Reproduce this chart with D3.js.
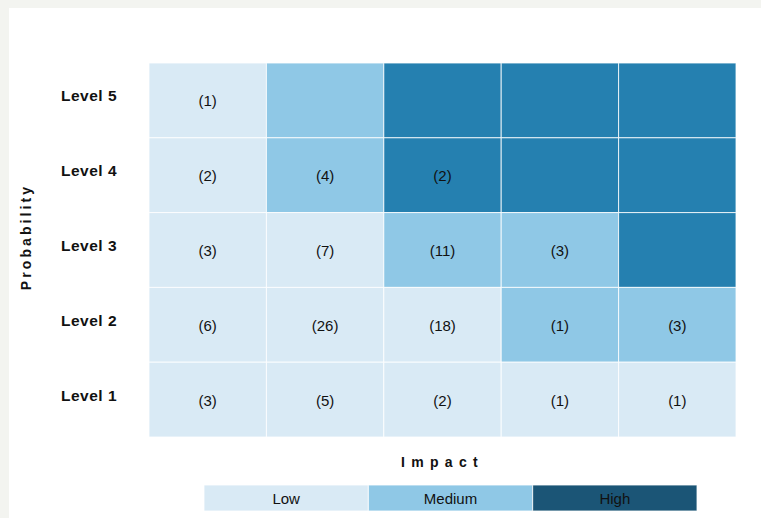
<!DOCTYPE html>
<html>
<head>
<meta charset="utf-8">
<script src="https://cdn.jsdelivr.net/npm/d3@7"></script>
<style>
  html, body { margin: 0; padding: 0; background: #f3f4f0; }
  svg { display: block; }
  text { font-family: "Liberation Sans", Arial, sans-serif; }
</style>
</head>
<body>
<svg id="chart" width="761" height="518"></svg>
<script>
const impacts = ["1", "2", "3", "4", "5"];
const levels = ["Level 5", "Level 4", "Level 3", "Level 2", "Level 1"];
const riskLevels = ["Low", "Medium", "High"];
// risk category per level row (Level 5 first), per impact column
const risk5 = ["Low", "Medium", "High", "High", "High"];
const risk4 = ["Low", "Medium", "High", "High", "High"];
const risk3 = ["Low", "Low", "Medium", "Medium", "High"];
const risk2 = ["Low", "Low", "Low", "Medium", "Medium"];
const risk1 = ["Low", "Low", "Low", "Low", "Low"];
// counts per cell (null = no count shown)
const count5 = [1, null, null, null, null];
const count4 = [2, 4, 2, null, null];
const count3 = [3, 7, 11, 3, null];
const count2 = [6, 26, 18, 1, 3];
const count1 = [3, 5, 2, 1, 1];

const riskRows = [risk5, risk4, risk3, risk2, risk1];
const countRows = [count5, count4, count3, count2, count1];

const cells = [];
levels.forEach((lv, i) => {
  impacts.forEach((im, j) => {
    cells.push({level: lv, impact: im, risk: riskRows[i][j], count: countRows[i][j]});
  });
});

const svg = d3.select("#chart");
// white card
svg.append("rect").attr("x", 9).attr("y", 8).attr("width", 752).attr("height", 510).attr("fill", "#ffffff");

const x = d3.scaleBand().domain(impacts).range([149, 736]).padding(0);
const y = d3.scaleBand().domain(levels).range([63, 437]).padding(0);
const cellColor = d3.scaleOrdinal().domain(riskLevels).range(["#d9eaf5", "#8fc8e6", "#2580b0"]);
const legendColor = d3.scaleOrdinal().domain(riskLevels).range(["#d9eaf5", "#8fc8e6", "#1b5576"]);

const g = svg.append("g");
g.selectAll("rect.cell").data(cells).enter().append("rect")
  .attr("class", "cell")
  .attr("x", d => x(d.impact))
  .attr("y", d => y(d.level))
  .attr("width", x.bandwidth())
  .attr("height", y.bandwidth())
  .attr("fill", d => cellColor(d.risk))
  .attr("stroke", "#ffffff")
  .attr("stroke-opacity", 0.8)
  .attr("stroke-width", 1);

g.selectAll("text.count").data(cells.filter(d => d.count !== null)).enter().append("text")
  .attr("class", "count")
  .attr("x", d => x(d.impact) + x.bandwidth() / 2)
  .attr("y", d => y(d.level) + y.bandwidth() / 2 + 6)
  .attr("text-anchor", "middle")
  .attr("font-size", 15)
  .attr("fill", "#111")
  .text(d => "(" + d.count + ")");

// row labels
svg.selectAll("text.lvl").data(levels).enter().append("text")
  .attr("class", "lvl")
  .attr("x", 61)
  .attr("y", d => y(d) + y.bandwidth() / 2 + 1)
  .attr("font-size", 15.5)
  .attr("font-weight", "bold")
  .attr("letter-spacing", "0.5px")
  .attr("fill", "#111")
  .text(d => d);

// axis titles
svg.append("text")
  .attr("x", (149 + 736) / 2)
  .attr("y", 467)
  .attr("text-anchor", "middle")
  .attr("font-size", 14)
  .attr("font-weight", "bold")
  .attr("letter-spacing", "6.3px")
  .attr("fill", "#111")
  .text("Impact");

svg.append("text")
  .attr("transform", "translate(31,237) rotate(-90)")
  .attr("text-anchor", "middle")
  .attr("font-size", 14)
  .attr("font-weight", "bold")
  .attr("letter-spacing", "3.1px")
  .attr("fill", "#111")
  .text("Probability");

// legend
const lx = d3.scaleBand().domain(riskLevels).range([204, 697]).padding(0);
const lg = svg.append("g");
lg.selectAll("rect").data(riskLevels).enter().append("rect")
  .attr("x", d => lx(d))
  .attr("y", 485)
  .attr("width", lx.bandwidth())
  .attr("height", 26)
  .attr("fill", d => legendColor(d))
  .attr("stroke", "#ffffff")
  .attr("stroke-opacity", 0.8)
  .attr("stroke-width", 1);
lg.selectAll("text").data(riskLevels).enter().append("text")
  .attr("x", d => lx(d) + lx.bandwidth() / 2)
  .attr("y", 503.5)
  .attr("text-anchor", "middle")
  .attr("font-size", 15)
  .attr("fill", "#111")
  .text(d => d);
</script>
</body>
</html>
